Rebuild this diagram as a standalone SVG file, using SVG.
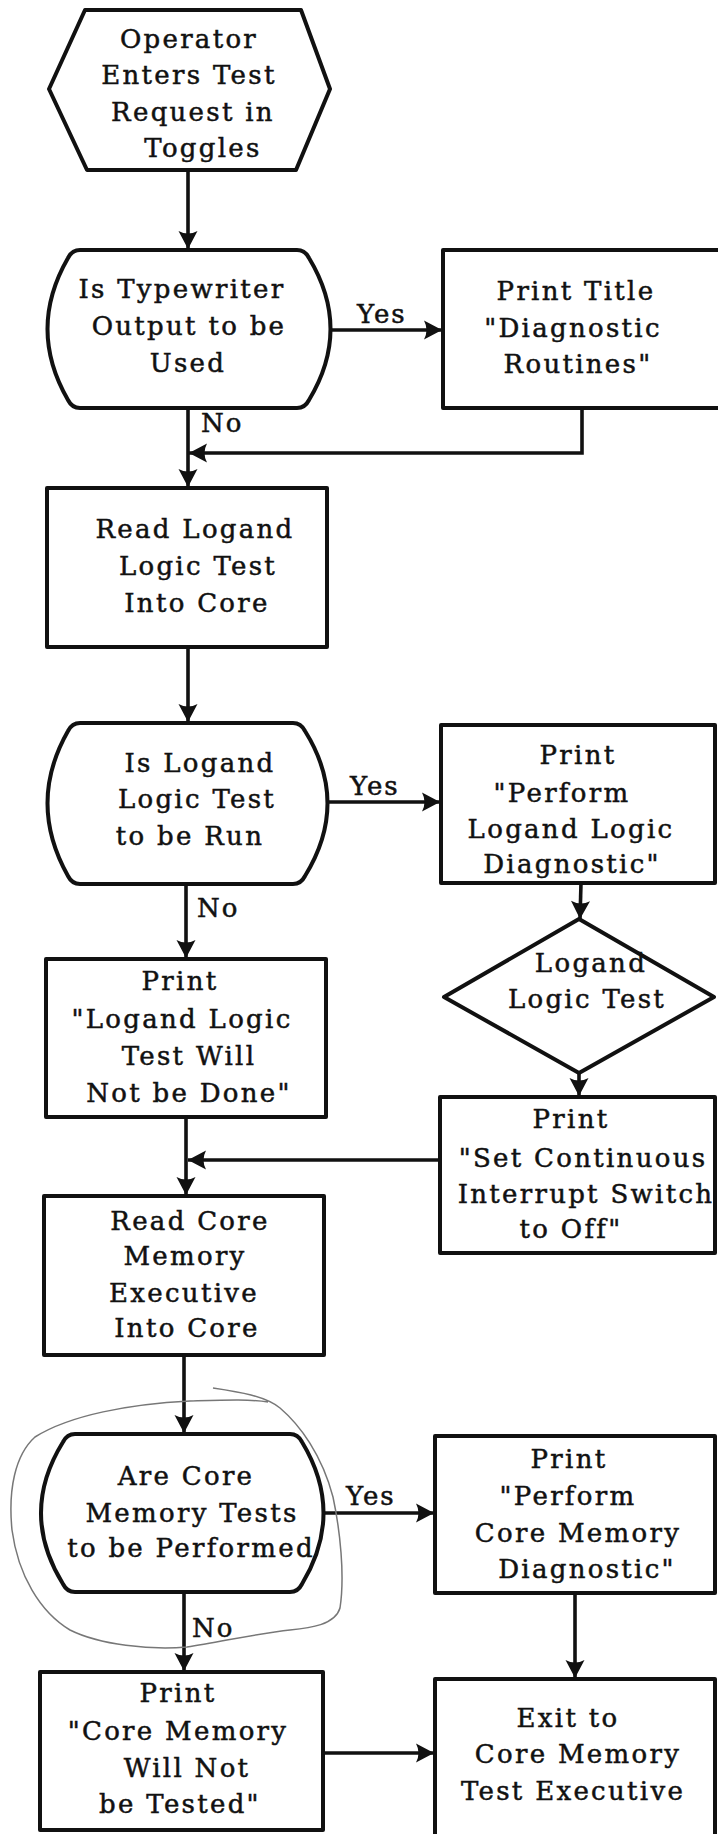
<svg xmlns="http://www.w3.org/2000/svg" width="718" height="1834" viewBox="0 0 718 1834">
<style>
.s{fill:#fff;stroke:#111;stroke-width:4;stroke-linejoin:round}
.t{font-family:"DejaVu Serif","Liberation Serif",serif;font-size:26px;letter-spacing:2.3px;fill:#111;stroke:#111;stroke-width:0.5;text-anchor:middle}
.l{font-family:"DejaVu Serif","Liberation Serif",serif;font-size:26px;letter-spacing:2px;fill:#111;stroke:#111;stroke-width:0.5}
.c{fill:none;stroke:#111;stroke-width:3.6}
.h{fill:none;stroke:#777;stroke-width:1.5}
</style>
<defs>
<marker id="a" markerUnits="userSpaceOnUse" markerWidth="28" markerHeight="28" refX="0" refY="0" viewBox="-24 -14 28 28" orient="auto">
<path d="M0,0 L-18,-9.5 Q-13,0 -18,9.5 Z" fill="#111"/>
</marker>
</defs>
<rect width="718" height="1834" fill="#fff"/>

<g id="start">
<polygon class="s" points="85,10 301,10 330,89 296,170 87,170 49,89"/>
<text class="t" x="189" y="48">Operator</text>
<text class="t" x="189" y="84">Enters Test</text>
<text class="t" x="193" y="121">Request in</text>
<text class="t" x="203" y="157">Toggles</text>
</g>

<g id="q1">
<path class="s" d="M80,250 H297 Q305,250 309,258 Q352,329 309,400 Q305,408 297,408 H80 Q72,408 68,400 Q27,329 68,258 Q72,250 80,250 Z"/>
<text class="t" x="182" y="298">Is Typewriter</text>
<text class="t" x="189" y="335">Output to be</text>
<text class="t" x="188" y="372">Used</text>
</g>

<g id="title">
<rect class="s" x="443" y="250" width="290" height="158"/>
<text class="t" x="576" y="300">Print Title</text>
<text class="t" x="573" y="337">"Diagnostic</text>
<text class="t" x="578" y="373">Routines"</text>
</g>

<g id="readlogand">
<rect class="s" x="47" y="488" width="280" height="159"/>
<text class="t" x="195" y="538">Read Logand</text>
<text class="t" x="198" y="575">Logic Test</text>
<text class="t" x="197" y="612">Into Core</text>
</g>

<g id="q2">
<path class="s" d="M80,723 H293 Q301,723 305,731 Q350,803 305,876 Q301,884 293,884 H80 Q72,884 68,876 Q27,803 68,731 Q72,723 80,723 Z"/>
<text class="t" x="200" y="772">Is Logand</text>
<text class="t" x="197" y="808">Logic Test</text>
<text class="t" x="190" y="845">to be Run</text>
</g>

<g id="performlogand">
<rect class="s" x="441" y="725" width="274" height="158"/>
<text class="t" x="578" y="764">Print</text>
<text class="t" x="562" y="802">"Perform</text>
<text class="t" x="571" y="838">Logand Logic</text>
<text class="t" x="572" y="873">Diagnostic"</text>
</g>

<g id="logandtest">
<polygon class="s" points="579,919 714,997 579,1073 444,997"/>
<text class="t" x="591" y="972">Logand</text>
<text class="t" x="587" y="1008">Logic Test</text>
</g>

<g id="notdone">
<rect class="s" x="46" y="959" width="280" height="158"/>
<text class="t" x="180" y="990">Print</text>
<text class="t" x="182" y="1028">"Logand Logic</text>
<text class="t" x="189" y="1065">Test Will</text>
<text class="t" x="189" y="1102">Not be Done"</text>
</g>

<g id="setswitch">
<rect class="s" x="440" y="1097" width="275" height="156"/>
<text class="t" x="571" y="1128">Print</text>
<text class="t" x="583" y="1167">"Set Continuous</text>
<text class="t" x="586" y="1203">Interrupt Switch</text>
<text class="t" x="571" y="1238">to Off"</text>
</g>

<g id="readcore">
<rect class="s" x="44" y="1196" width="280" height="159"/>
<text class="t" x="190" y="1230">Read Core</text>
<text class="t" x="185" y="1265">Memory</text>
<text class="t" x="184" y="1302">Executive</text>
<text class="t" x="187" y="1337">Into Core</text>
</g>

<g id="q3">
<path class="s" d="M75,1434 H290 Q298,1434 302,1442 Q345,1513 302,1584 Q298,1592 290,1592 H75 Q67,1592 63,1584 Q19,1513 63,1442 Q67,1434 75,1434 Z"/>
<text class="t" x="186" y="1485">Are Core</text>
<text class="t" x="192" y="1522">Memory Tests</text>
<text class="t" x="191" y="1557">to be Performed</text>
</g>

<g id="performcore">
<rect class="s" x="435" y="1436" width="280" height="157"/>
<text class="t" x="569" y="1468">Print</text>
<text class="t" x="568" y="1505">"Perform</text>
<text class="t" x="578" y="1542">Core Memory</text>
<text class="t" x="587" y="1578">Diagnostic"</text>
</g>

<g id="nottested">
<rect class="s" x="40" y="1672" width="283" height="158"/>
<text class="t" x="178" y="1702">Print</text>
<text class="t" x="178" y="1740">"Core Memory</text>
<text class="t" x="187" y="1777">Will Not</text>
<text class="t" x="180" y="1813">be Tested"</text>
</g>

<g id="exit">
<rect class="s" x="435" y="1679" width="280" height="170"/>
<text class="t" x="568" y="1727">Exit to</text>
<text class="t" x="578" y="1763">Core Memory</text>
<text class="t" x="573" y="1800">Test Executive</text>
</g>

<g id="connectors">
<line class="c" x1="188" y1="170" x2="188" y2="249" marker-end="url(#a)"/>
<line class="c" x1="330" y1="330" x2="442" y2="330" marker-end="url(#a)"/>
<polyline class="c" points="582,408 582,453 189,453" marker-end="url(#a)"/>
<line class="c" x1="188" y1="408" x2="188" y2="487" marker-end="url(#a)"/>
<line class="c" x1="188" y1="647" x2="188" y2="722" marker-end="url(#a)"/>
<line class="c" x1="329" y1="802" x2="440" y2="802" marker-end="url(#a)"/>
<line class="c" x1="581" y1="883" x2="580" y2="919" marker-end="url(#a)"/>
<line class="c" x1="186" y1="884" x2="186" y2="958" marker-end="url(#a)"/>
<line class="c" x1="579" y1="1073" x2="579" y2="1096" marker-end="url(#a)"/>
<line class="c" x1="440" y1="1160" x2="188" y2="1160" marker-end="url(#a)"/>
<line class="c" x1="186" y1="1117" x2="186" y2="1195" marker-end="url(#a)"/>
<line class="c" x1="184" y1="1355" x2="184" y2="1433" marker-end="url(#a)"/>
<line class="c" x1="323" y1="1513" x2="434" y2="1513" marker-end="url(#a)"/>
<line class="c" x1="184" y1="1592" x2="184" y2="1671" marker-end="url(#a)"/>
<line class="c" x1="575" y1="1593" x2="575" y2="1678" marker-end="url(#a)"/>
<line class="c" x1="323" y1="1753" x2="434" y2="1753" marker-end="url(#a)"/>
<text class="l" x="357" y="323">Yes</text>
<text class="l" x="201" y="432">No</text>
<text class="l" x="350" y="795">Yes</text>
<text class="l" x="197" y="917">No</text>
<text class="l" x="346" y="1505">Yes</text>
<text class="l" x="192" y="1637">No</text>
</g>

<path class="h" d="M213,1388 C240,1392 265,1396 280,1408 C300,1425 322,1455 333,1497 C340,1530 345,1575 340,1608 C335,1625 310,1628 290,1630 C260,1633 220,1642 187,1647 C150,1650 100,1645 70,1630 C40,1612 18,1575 12,1530 C8,1490 15,1455 35,1437 C70,1415 130,1404 190,1401 C225,1400 250,1399 268,1402"/>
</svg>
